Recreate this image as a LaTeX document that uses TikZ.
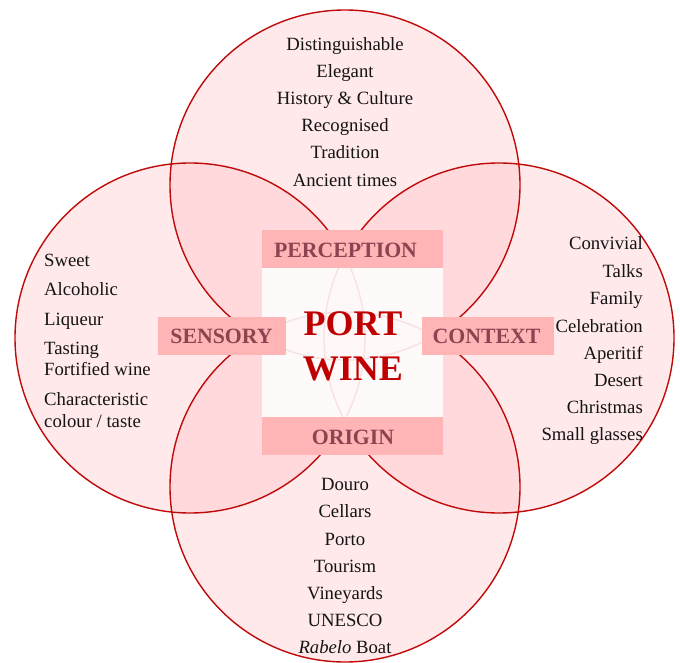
\documentclass[tikz,border=0pt]{standalone}
\usepackage{fontspec}
\setmainfont{Liberation Serif}
\definecolor{ringred}{RGB}{192,10,10}
\definecolor{ringfill}{RGB}{255,170,175}
\definecolor{labfill}{RGB}{255,180,182}
\definecolor{labtext}{RGB}{140,68,80}
\definecolor{titlered}{RGB}{192,0,0}
\begin{document}
\begin{tikzpicture}[x=1pt,y=-1pt,
  ring/.style={fill=ringfill, fill opacity=0.25},
  ringline/.style={draw=ringred, line width=1.4pt},
  itemtext/.style={font=\fontsize{18.7}{20}\selectfont, text=black!92, inner sep=0pt, anchor=base},
  labelbox/.style={fill=labfill, draw=none, inner sep=0pt, minimum height=38pt},
  labeltext/.style={font=\fontsize{21.8}{24}\selectfont\bfseries, text=labtext, anchor=base, inner sep=0pt},
  titletext/.style={font=\fontsize{36}{40}\selectfont\bfseries, text=titlered, anchor=base, inner sep=0pt},
  corebox/.style={fill=white, fill opacity=0.88, draw=none, inner sep=0pt}]
\useasboundingbox (0,0) rectangle (680,663);
\fill[white] (0,0) rectangle (680,663);
% circle centres
\coordinate (cT) at (345,185);
\coordinate (cB) at (345,487);
\coordinate (cL) at (190,338);
\coordinate (cR) at (499,338);
\foreach \c in {cT,cL,cR,cB} \fill[ring] (\c) circle [radius=175pt];
\foreach \c in {cT,cL,cR,cB} \draw[ringline] (\c) circle [radius=175pt];
% central white box
\node[corebox, minimum width=181pt, minimum height=149pt] (core) at (352.5,342.5) {};
% label boxes
\node[labelbox, minimum width=181pt] (percbox) at (352.5,249) {};
\node[labelbox, minimum width=181pt] (origbox) at (352.5,436) {};
\node[labelbox, minimum width=128pt] (sensbox) at (222,336) {};
\node[labelbox, minimum width=132pt] (contbox) at (488,336) {};
\node[labeltext] (perc) at (345.5,258) {PERCEPTION};
\node[labeltext] (orig) at (353,444) {ORIGIN};
\node[labeltext] (sens) at (221.5,343) {SENSORY};
\node[labeltext] (cont) at (486.5,343) {CONTEXT};
% title
\node[titletext] (port) at (353,335) {PORT};
\node[titletext] (wine) at (353,380) {WINE};
% top list
\node[itemtext] (t1) at (345,51) {Distinguishable};
\node[itemtext] (t2) at (345,78) {Elegant};
\node[itemtext] (t3) at (345,105) {History \& Culture};
\node[itemtext] (t4) at (345,132) {Recognised};
\node[itemtext] (t5) at (345,159) {Tradition};
\node[itemtext] (t6) at (345,187) {Ancient times};
% left list
\node[itemtext, anchor=base west] (l1) at (44,266) {Sweet};
\node[itemtext, anchor=base west] (l2) at (44,295) {Alcoholic};
\node[itemtext, anchor=base west] (l3) at (44,325) {Liqueur};
\node[itemtext, anchor=base west] (l4) at (44,354) {Tasting};
\node[itemtext, anchor=base west] (l5) at (44,375) {Fortified wine};
\node[itemtext, anchor=base west] (l6) at (44,405) {Characteristic};
\node[itemtext, anchor=base west] (l7) at (44,427) {colour / taste};
% right list
\node[itemtext, anchor=base east] (r1) at (643,250) {Convivial};
\node[itemtext, anchor=base east] (r2) at (643,277) {Talks};
\node[itemtext, anchor=base east] (r3) at (643,304) {Family};
\node[itemtext, anchor=base east] (r4) at (643,332) {Celebration};
\node[itemtext, anchor=base east] (r5) at (643,359) {Aperitif};
\node[itemtext, anchor=base east] (r6) at (643,386) {Desert};
\node[itemtext, anchor=base east] (r7) at (643,413) {Christmas};
\node[itemtext, anchor=base east] (r8) at (643,440) {Small glasses};
% bottom list
\node[itemtext] (b1) at (345,490) {Douro};
\node[itemtext] (b2) at (345,517) {Cellars};
\node[itemtext] (b3) at (345,545) {Porto};
\node[itemtext] (b4) at (345,572) {Tourism};
\node[itemtext] (b5) at (345,599) {Vineyards};
\node[itemtext] (b6) at (345,626) {UNESCO};
\node[itemtext] (b7) at (345,653) {\textit{Rabelo} Boat};
\end{tikzpicture}
\end{document}
